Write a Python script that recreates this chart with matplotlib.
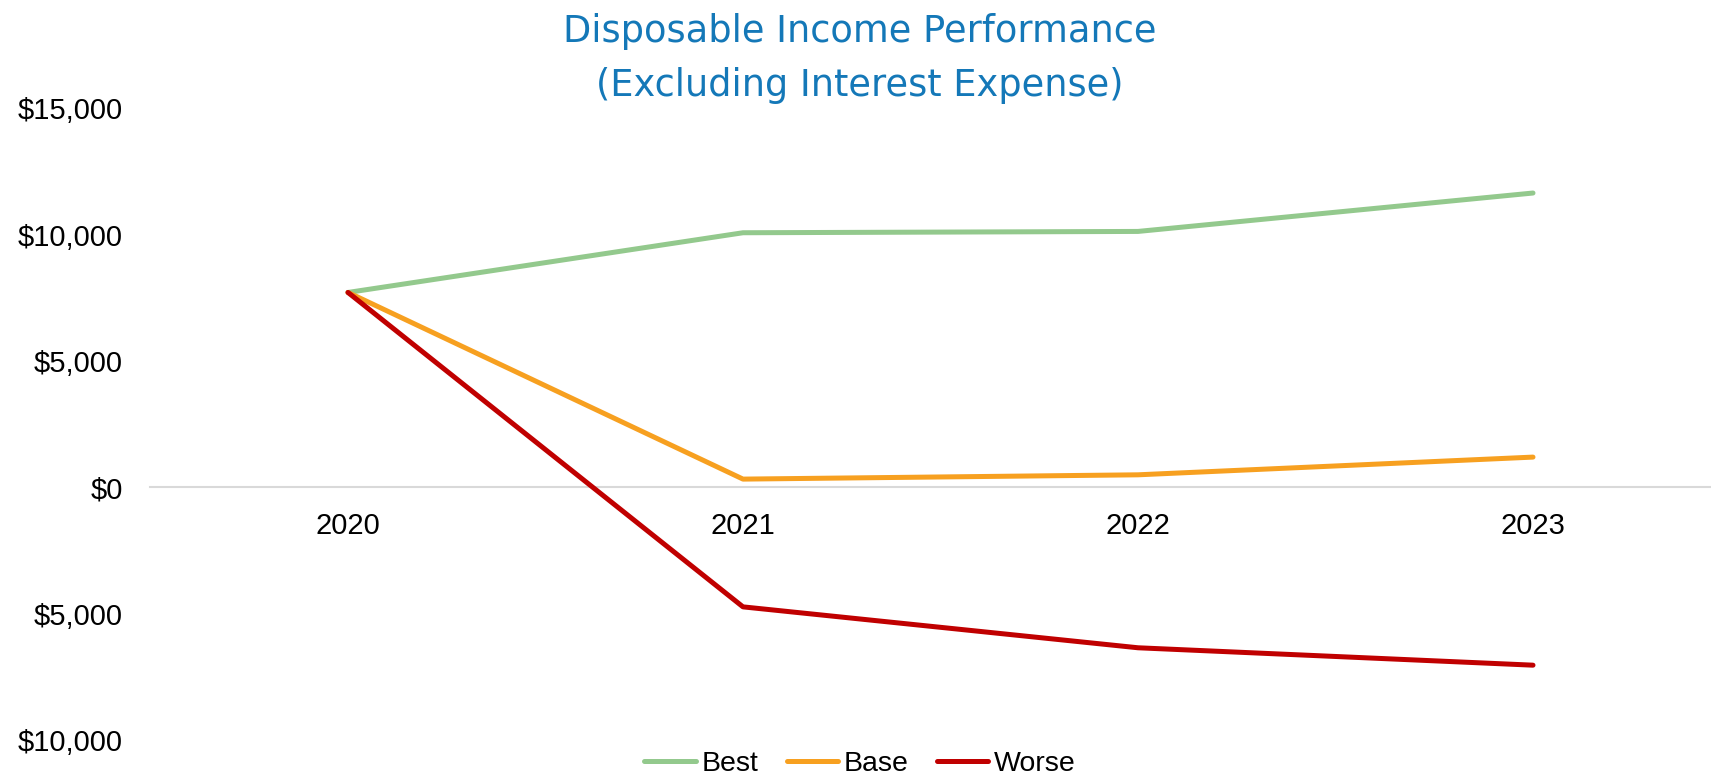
import matplotlib
matplotlib.use("Agg")
import matplotlib.pyplot as plt

years = ["2020", "2021", "2022", "2023"]
best = [7712, 10075, 10127, 11647]
base = [7712, 325, 495, 1196]
worse = [7712, -4731, -6350, -7039]
ytick_vals = [15000, 10000, 5000, 0, -5000, -10000]
ytick_labels = ["$15,000", "$10,000", "$5,000", "$0", "$5,000", "$10,000"]

W, H = 1711, 778
fig = plt.figure(figsize=(W / 100, H / 100), dpi=100)
ax = fig.add_axes([150.5 / W, (H - 740) / H, 1580 / W, (740 - 108.3) / H])

x = list(range(len(years)))
kw = dict(lw=3.6, solid_capstyle="round", solid_joinstyle="round")
ax.plot(x, best, color="#93C98D", label="Best", **kw)
ax.plot(x, base, color="#F7A020", label="Base", **kw)
ax.plot(x, worse, color="#C00000", label="Worse", **kw)

ax.set_xlim(-0.5, 3.5)
ax.set_ylim(-10000, 15000)
ax.set_yticks(ytick_vals)
ax.set_yticklabels(ytick_labels)
ax.set_xticks(x)
ax.set_xticklabels(years)

for s in ["top", "right", "left"]:
    ax.spines[s].set_visible(False)
ax.spines["bottom"].set_position(("data", 0))
ax.spines["bottom"].set_color("#D9D9D9")
ax.spines["bottom"].set_linewidth(1.5)
ax.spines["bottom"].set_zorder(0)

font = "Liberation Sans"
ax.tick_params(axis="y", length=0, pad=20, labelsize=21, labelfontfamily=font, labelcolor="black")
ax.tick_params(axis="x", length=0, pad=17.5, labelsize=21, labelfontfamily=font, labelcolor="black")

fig.text(860 / W, 1 - 32 / H, "Disposable Income Performance", ha="center", va="center",
         color="#1478B8", fontsize=26.5, family="DejaVu Sans")
fig.text(860 / W, 1 - 85 / H, "(Excluding Interest Expense)", ha="center", va="center",
         color="#1478B8", fontsize=26.5, family="DejaVu Sans")

fig.legend(loc="center", bbox_to_anchor=(860 / W, 1 - 764 / H), ncol=3, frameon=False,
           prop={"family": font, "size": 20.5}, handlelength=1.8, handletextpad=0.2,
           columnspacing=1.0, borderpad=0, borderaxespad=0)

fig.savefig("out.png", dpi=100)
